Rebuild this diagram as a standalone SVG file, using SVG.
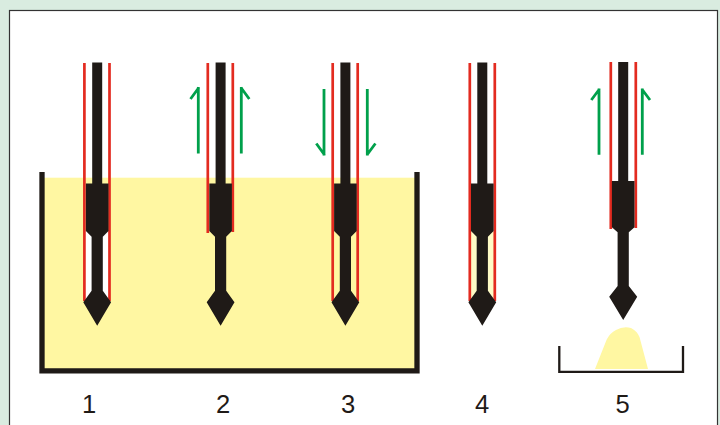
<svg xmlns="http://www.w3.org/2000/svg" width="720" height="425" viewBox="0 0 720 425">
<style>
.red{stroke:#e32b20;stroke-width:2.7;fill:none}
.blk{fill:#1f1a17}
.wall{fill:none;stroke:#1f1a17;stroke-linejoin:miter}
.arr{fill:none;stroke:#00a04b;stroke-width:2.8;stroke-linejoin:miter}
.yel{fill:#fff7a2}
text{font-family:"Liberation Sans",Arial,sans-serif;font-size:25.6px;fill:#1f1a17;text-anchor:middle}
</style>
<defs>
<path id="probe" class="blk" d="M-5 62.5H5V183.5H11.3V231L5.6 236.7V290.7L13.9 302.3L0 325.7L-13.9 302.3L-5.6 290.7V236.7L-11.3 231V183.5H-5Z"/>
</defs>
<rect x="0" y="0" width="720" height="425" fill="#d9ece0"/>
<rect x="9.5" y="10.5" width="708" height="420" fill="#fff" stroke="#333" stroke-width="1.2"/>
<g id="tank">
<rect class="yel" x="42" y="177.7" width="375" height="193"/>
<path class="wall" stroke-width="5.3" d="M42 172V370.8H417V172"/>
</g>
<g id="probe1" transform="translate(97.2 0)">
<rect x="-12" y="231" width="24" height="69" fill="#fff"/>
<path class="red" d="M-12.8 63V301M12.3 63V301"/>
<use href="#probe"/>
</g>
<g id="probe2" transform="translate(220.6 0)">
<path class="red" d="M-12.8 63V233M12.2 63V232"/>
<use href="#probe"/>
</g>
<g id="probe3" transform="translate(345.4 0)">
<path class="red" d="M-12.7 63V301M12.3 63V301"/>
<use href="#probe"/>
</g>
<g id="probe4" transform="translate(482.3 0)">
<rect x="-12" y="231" width="24" height="69" fill="#fffbc6"/>
<path class="red" d="M-12.5 63V301M12.5 63V301"/>
<use href="#probe"/>
</g>
<g id="probe5" transform="translate(623.2 0)">
<path class="red" d="M-12.4 62V229M12.6 62V228"/>
<path class="blk" d="M-5 62H5V181H11.3V227.3L5.6 232.3V286L14 296.7L0 320L-14 296.7L-5.6 286V232.3L-11.3 227.3V181H-5Z"/>
</g>
<g id="tray">
<path class="yel" d="M595 369L606.7 339.5Q610 333 616 330Q623 326 631 328Q637 331 639.5 337L648 369Z"/>
<path class="wall" stroke-width="2.3" d="M559.3 346V371.8H683V346"/>
</g>
<g id="connectors">
<path class="arr" d="M198.3 153.5V87M190.5 99L198.9 87.5"/>
<path class="arr" d="M241.3 153.5V87M249.3 99L240.9 87.5"/>
<path class="arr" d="M324 89V155.5M316.3 143.5L324.6 155"/>
<path class="arr" d="M367.3 89V155.5M375.4 143.5L366.9 155"/>
<path class="arr" d="M599 154.7V88.5M591.3 100L599.5 89"/>
<path class="arr" d="M642.3 154.7V88.5M650 100L641.8 89"/>
</g>
<g id="labels">
<text x="89" y="413">1</text>
<text x="223" y="413">2</text>
<text x="348" y="413">3</text>
<text x="482" y="413">4</text>
<text x="622.5" y="413">5</text>
</g>
</svg>
